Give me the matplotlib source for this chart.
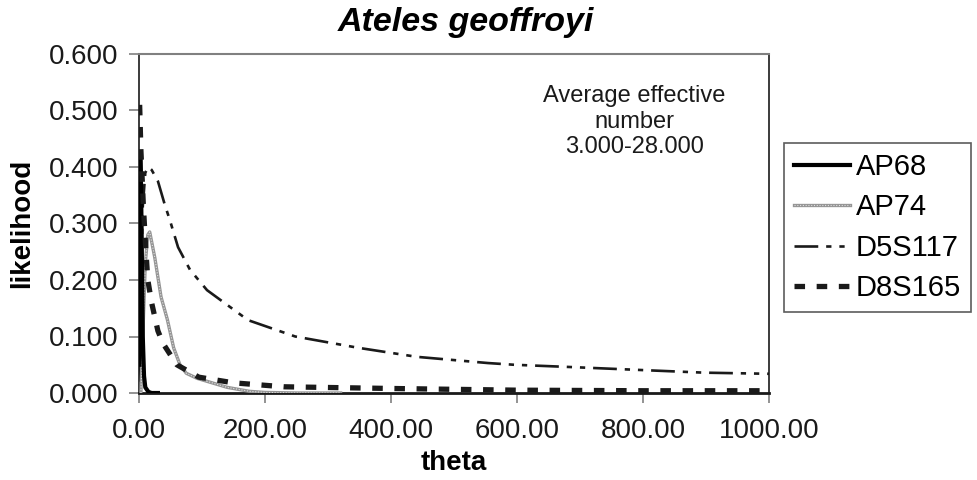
import numpy as np
import matplotlib
matplotlib.use("Agg")
from matplotlib import pyplot as plt
from matplotlib.ticker import FormatStrFormatter, MultipleLocator
from matplotlib.legend_handler import HandlerTuple

plt.rcParams['font.family'] = ['Liberation Sans', 'DejaVu Sans']

# likelihood curves over theta, one per locus
ap68_theta = [0.3, 1, 2, 3, 4, 5, 6, 8, 10, 15, 20, 30]
ap68_lik = [0.05, 0.30, 0.42, 0.38, 0.30, 0.20, 0.10, 0.03, 0.01, 0.002, 0.0, 0.0]

ap74_theta = [3, 6, 10, 14, 17, 25, 35, 45, 55, 65, 75, 92, 110, 140, 175, 200, 250, 320]
ap74_lik = [0.0, 0.10, 0.23, 0.28, 0.285, 0.24, 0.17, 0.13, 0.08, 0.05, 0.035, 0.026,
            0.02, 0.01, 0.003, 0.001, 0.0, 0.0]

d5_theta = [1, 3, 6, 10, 15, 20, 30, 41, 49, 62, 81, 108, 173, 248, 348, 441,
            554, 595, 684, 790, 897, 1000]
d5_lik = [0.02, 0.20, 0.33, 0.39, 0.40, 0.395, 0.375, 0.333, 0.306, 0.258, 0.218,
          0.182, 0.129, 0.100, 0.080, 0.064, 0.053, 0.050, 0.046, 0.041, 0.036, 0.034]

d8_theta = [1, 2, 3, 5, 7, 11, 14, 20, 30, 38, 60, 95, 150, 230, 400, 600, 800, 1000]
d8_lik = [0.51, 0.47, 0.43, 0.38, 0.33, 0.25, 0.20, 0.16, 0.11, 0.088, 0.05, 0.028,
          0.018, 0.011, 0.008, 0.005, 0.004, 0.004]

fig = plt.figure(figsize=(9.77, 4.8), dpi=100)
ax = fig.add_axes([139 / 977, 1 - 393 / 480, 630 / 977, 339 / 480])

l68, = ax.plot(ap68_theta, ap68_lik, color='black', lw=3, zorder=4)
l74, = ax.plot(ap74_theta, ap74_lik, color='#959595', lw=2.4, zorder=3)
# light speckle through the grey line
l74b, = ax.plot(ap74_theta, ap74_lik, color='#e2e2e2', lw=0.8, dashes=(1, 1.5), zorder=3)
l5, = ax.plot(d5_theta, d5_lik, color='#1a1a1a', lw=1.9, dashes=(9, 3, 2, 3, 2, 3),
              zorder=2)
l8, = ax.plot(d8_theta, d8_lik, color='#1a1a1a', lw=3.8, dashes=(2, 2.2), zorder=5)

ax.set_xlim(0, 1000)
ax.set_ylim(0, 0.6)
ax.xaxis.set_major_locator(MultipleLocator(200))
ax.yaxis.set_major_locator(MultipleLocator(0.1))
ax.xaxis.set_major_formatter(FormatStrFormatter('%.2f'))
ax.yaxis.set_major_formatter(FormatStrFormatter('%.3f'))
ax.tick_params(axis='both', direction='out', length=7, width=1.2, color='#808080',
               labelsize=20, labelcolor='#1a1a1a')
ax.tick_params(axis='x', pad=11)
ax.tick_params(axis='y', pad=8)

for side in ['left', 'right']:
    ax.spines[side].set_color('#1a1a1a')
    ax.spines[side].set_linewidth(1.2)
ax.spines['bottom'].set_color('#1a1a1a')
ax.spines['bottom'].set_linewidth(2)
ax.spines['top'].set_color('#808080')
ax.spines['top'].set_linewidth(1.5)

ax.set_xlabel('theta', fontsize=20, fontweight='bold', labelpad=4)
ax.set_ylabel('likelihood', fontsize=20, fontweight='bold', labelpad=10)
fig.text(466 / 977, 1 - 22 / 480, 'Ateles geoffroyi', fontsize=24.5, fontweight='bold',
         fontstyle='italic', ha='center', va='center')

ax.text(0.786, 0.80, 'Average effective\nnumber\n3.000-28.000', transform=ax.transAxes,
        ha='center', va='center', fontsize=17, color='#1a1a1a', linespacing=1.2)

leg = fig.legend([l68, (l74, l74b), l5, l8], ['AP68', 'AP74', 'D5S117', 'D8S165'],
                 handler_map={tuple: HandlerTuple(ndivide=1, pad=0)},
                 loc='upper left', bbox_to_anchor=(784 / 977, 1 - 143 / 480),
                 fontsize=21, frameon=True, fancybox=False, handlelength=1.9,
                 handletextpad=0.2, labelspacing=0.42, borderpad=0.35, borderaxespad=0)
leg.get_frame().set_edgecolor('#333333')
leg.get_frame().set_linewidth(1.2)

fig.savefig('out.png', dpi=100)
